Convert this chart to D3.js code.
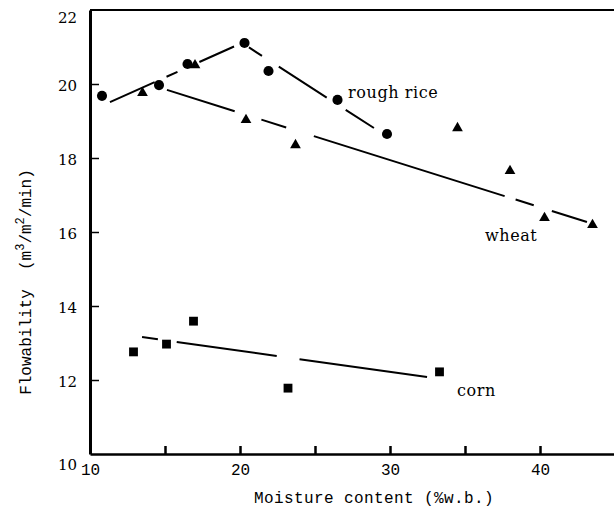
<!DOCTYPE html>
<html>
<head>
<meta charset="utf-8">
<script src="https://cdn.jsdelivr.net/npm/d3@7"></script>
<style>
  body { margin: 0; background: #fff; }
  svg { display: block; }
</style>
</head>
<body>
<svg width="614" height="509"></svg>
<script>
// values
const yTicks = [10, 12, 14, 16, 18, 20, 22];
const xTickMarks = [15, 20, 25, 30, 35, 40];
const xTickLabels = [10, 20, 30, 40];

const riceX = [10.8, 14.6, 16.5, 20.3, 21.9, 26.5, 29.8];
const riceY = [19.68, 19.97, 20.54, 21.11, 20.35, 19.57, 18.65];
const wheatX = [13.5, 17.0, 20.4, 23.7, 34.5, 38.0, 40.3, 43.5];
const wheatY = [19.76, 20.51, 19.03, 18.35, 18.81, 17.65, 16.38, 16.19];
const cornX = [12.9, 15.1, 16.9, 23.2, 33.3];
const cornY = [12.76, 12.97, 13.59, 11.78, 12.22];

// hand drawn fit lines
const riceFitX = [11.33, 20.13, 28.93];
const riceFitY = [19.51, 21.11, 18.81];
const wheatFitX = [15.13, 43.13];
const wheatFitY = [19.84, 16.27];
const cornFitX = [13.47, 32.47];
const cornFitY = [13.16, 12.08];

const svg = d3.select("svg");
const width = +svg.attr("width");
const height = +svg.attr("height");
const margin = {top: 10, right: 0, bottom: 55, left: 90};

const x = d3.scaleLinear().domain([10, 45]).range([margin.left, 615]);
const y = d3.scaleLinear().domain([10, 22]).range([height - margin.bottom, margin.top]);

const zip = (xs, ys) => xs.map((v, i) => [v, ys[i]]);
const line = d3.line().x(d => x(d[0])).y(d => y(d[1]));

// y axis, ticks pointing inward
const yAxis = svg.append("g")
  .attr("transform", `translate(${x(10)},0)`)
  .call(d3.axisLeft(y).tickValues(yTicks).tickSizeInner(-9).tickSizeOuter(0).tickPadding(13));
yAxis.select(".domain").attr("stroke-width", 3);
yAxis.selectAll(".tick line").attr("stroke-width", 1.5);
yAxis.selectAll(".tick text")
  .attr("font-family", "DejaVu Serif")
  .attr("font-size", 15)
  .attr("fill", "#000")
  .attr("dy", d => d === 10 ? "1.05em" : d === 22 ? "0.85em" : "0.4em");
yAxis.selectAll(".tick").filter(d => d === 10 || d === 22).select("line").remove();

// x axis: tick marks and labels
const xAxis = svg.append("g")
  .attr("transform", `translate(0,${y(10)})`)
  .call(d3.axisBottom(x).tickValues(xTickMarks).tickSizeInner(-8).tickSizeOuter(0).tickFormat(""));
xAxis.select(".domain").attr("stroke-width", 2.5);
xAxis.selectAll(".tick line").attr("stroke-width", 2.5);

svg.append("g")
  .attr("transform", `translate(0,${y(10)})`)
  .call(d3.axisBottom(x).tickValues(xTickLabels).tickSize(0).tickPadding(10))
  .call(g => g.select(".domain").remove())
  .selectAll("text")
    .attr("font-family", "Liberation Mono")
    .attr("font-size", 16)
    .attr("fill", "#000");

// top border
svg.append("line")
  .attr("x1", x(10)).attr("x2", x(45))
  .attr("y1", y(22)).attr("y2", y(22))
  .attr("stroke", "#000").attr("stroke-width", 2);

// fit lines
const fits = [
  {pts: zip(riceFitX, riceFitY), dash: "49,13,12,24,38,17,15.5,20,57,22.6,40"},
  {pts: zip(wheatFitX, wheatFitY), dash: "71,28,26,29,200,11.5,19,19,40"},
  {pts: zip(cornFitX, cornFitY), dash: "16,19,101,23,140"}
];
svg.selectAll("path.fit").data(fits).enter().append("path")
  .attr("class", "fit")
  .attr("d", d => line(d.pts))
  .attr("fill", "none")
  .attr("stroke", "#000")
  .attr("stroke-width", 2)
  .attr("stroke-dasharray", d => d.dash);

// markers
const series = [
  {pts: zip(riceX, riceY), sym: d3.symbolCircle, size: 80},
  {pts: zip(wheatX, wheatY), sym: d3.symbolTriangle, size: 50},
  {pts: zip(cornX, cornY), sym: d3.symbolSquare, size: 78}
];
series.forEach(s => {
  svg.append("g").selectAll("path").data(s.pts).enter().append("path")
    .attr("transform", d => `translate(${x(d[0])},${y(d[1])})`)
    .attr("d", d3.symbol().type(s.sym).size(s.size))
    .attr("fill", "#000");
});

// series labels
const labels = [
  {text: "rough rice", at: [27.2, 19.62]},
  {text: "wheat", at: [36.33, 15.76]},
  {text: "corn", at: [34.47, 11.57]}
];
svg.selectAll("text.lab").data(labels).enter().append("text")
  .attr("class", "lab")
  .attr("x", d => x(d.at[0]))
  .attr("y", d => y(d.at[1]))
  .attr("font-family", "DejaVu Serif")
  .attr("font-size", 16)
  .attr("letter-spacing", 0.6)
  .text(d => d.text);

// axis titles
svg.append("text")
  .attr("x", 374).attr("y", 503)
  .attr("text-anchor", "middle")
  .attr("font-family", "Liberation Mono")
  .attr("font-size", 16)
  .attr("letter-spacing", 0.4)
  .text("Moisture content (%w.b.)");

const yt = svg.append("text")
  .attr("transform", "translate(31,282) rotate(-90)")
  .attr("text-anchor", "middle")
  .attr("font-family", "Liberation Mono")
  .attr("font-size", 16)
  .attr("xml:space", "preserve");
yt.append("tspan").text("Flowability  (m");
yt.append("tspan").attr("dy", -7).attr("font-size", 12).text("3");
yt.append("tspan").attr("dy", 7).text("/m");
yt.append("tspan").attr("dy", -7).attr("font-size", 12).text("2");
yt.append("tspan").attr("dy", 7).text("/min)");
</script>
</body>
</html>
